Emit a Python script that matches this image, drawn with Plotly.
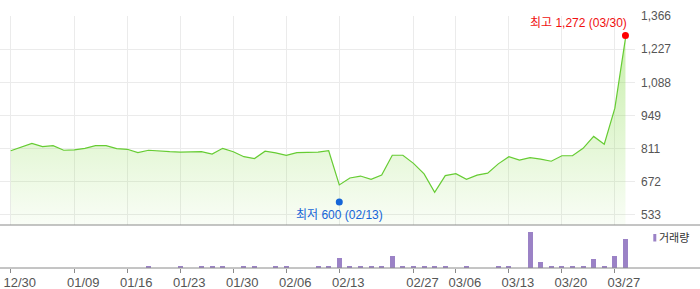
import plotly.graph_objects as go

# ---------------- data ----------------
dates = ["12/30", "01/02", "01/03", "01/06", "01/07", "01/08", "01/09", "01/10", "01/13", "01/14",
         "01/15", "01/16", "01/17", "01/20", "01/21", "01/22", "01/23", "01/24", "01/27", "01/28",
         "01/29", "01/30", "01/31", "02/03", "02/04", "02/05", "02/06", "02/07", "02/10", "02/11",
         "02/12", "02/13", "02/14", "02/17", "02/18", "02/24", "02/25", "02/26", "02/27", "02/28",
         "03/04", "03/05", "03/06", "03/09", "03/10", "03/11", "03/12", "03/13", "03/16", "03/17",
         "03/18", "03/19", "03/20", "03/23", "03/24", "03/25", "03/26", "03/27", "03/30"]

close = [802, 819, 833, 819, 823, 804, 806, 812, 823, 823,
         811, 808, 794, 804, 800, 798, 796, 796, 798, 788,
         812, 798, 777, 769, 800, 793, 783, 794, 796, 796,
         802, 659, 688, 696, 682, 700, 783, 783, 749, 705,
         628, 698, 706, 682, 700, 708, 747, 777, 763, 773,
         767, 758, 781, 781, 812, 862, 829, 980, 1272]

volume = [0, 0, 0, 0, 0, 0, 0, 0, 0, 0,
          0, 0, 0, 14000, 0, 0, 14000, 0, 14000, 14000,
          14000, 0, 14000, 14000, 0, 14000, 14000, 0, 0, 14000,
          14000, 103000, 22000, 22000, 14000, 14000, 122000, 22000, 14000, 14000,
          14000, 14000, 0, 14000, 0, 0, 14000, 14000, 0, 363000,
          62000, 14000, 14000, 14000, 14000, 91000, 14000, 117000, 293000]

tick_labels = ["12/30", "01/09", "01/16", "01/23", "01/30", "02/06", "02/13",
               "02/27", "03/06", "03/13", "03/20", "03/27"]
price_ticks = [533, 672, 811, 949, 1088, 1227, 1366]

high_label = "최고 1,272 (03/30)"
high_date, high_value = "03/30", 1272
low_label = "최저 600 (02/13)"
low_date, low_value = "02/13", 600
volume_name = "거래량"

# ---------------- figure ----------------
W, H = 700, 289
PLOT_R = 635 / W
TOP_Y = [1 - 225 / H, 1 - 16 / H]
BOT_Y = [1 - 268 / H, 1 - 225 / H]
Y_RANGE = [491.1, 1366]
X_RANGE = [-1.01, 58.9]

LINE = "rgb(102,204,51)"
GRID = "#ebebeb"
TICK_FONT = dict(family="Liberation Sans, Arial, sans-serif", size=12, color="#555")
TXT_FAMILY = "Liberation Sans, Arial, 'Noto Sans CJK KR', sans-serif"

fig = go.Figure()

fig.add_trace(go.Scatter(
    x=dates, y=close, mode="lines",
    line=dict(color=LINE, width=1.2),
    fill="tozeroy",
    fillgradient=dict(type="vertical", start=Y_RANGE[0], stop=high_value,
                      colorscale=[[0, "rgba(140,220,80,0.05)"], [1, "rgba(140,220,80,0.47)"]]),
    xaxis="x", yaxis="y", showlegend=False, hoverinfo="skip"))

fig.add_trace(go.Scatter(
    x=[high_date], y=[high_value], mode="markers",
    marker=dict(color="#ff0000", size=7, angle=180, standoff=3),
    xaxis="x", yaxis="y", showlegend=False))
fig.add_trace(go.Scatter(
    x=[low_date], y=[low_value], mode="markers",
    marker=dict(color="#1565d8", size=7, angle=0, standoff=3),
    xaxis="x", yaxis="y", showlegend=False))

fig.add_trace(go.Bar(
    x=dates, y=volume, width=0.47, marker=dict(color="#9b82c6", line=dict(width=0)),
    xaxis="x2", yaxis="y2", showlegend=False, name=volume_name))

fig.add_annotation(x=high_date, y=high_value, xref="x", yref="y", text=high_label,
                   showarrow=False, xanchor="right", yanchor="bottom", xshift=4, yshift=6,
                   font=dict(family=TXT_FAMILY, size=12, color="#f01010"))
fig.add_annotation(x=low_date, y=low_value, xref="x", yref="y", text=low_label,
                   showarrow=False, xanchor="center", yanchor="top", yshift=-7,
                   font=dict(family=TXT_FAMILY, size=12, color="#1565d8"))

# legend
fig.add_shape(type="rect", xref="paper", yref="paper",
              x0=653.3 / W, x1=656.3 / W, y0=1 - 241.5 / H, y1=1 - 234 / H,
              fillcolor="#9b82c6", line=dict(width=0))
fig.add_annotation(x=657 / W, y=1 - 237.7 / H, xref="paper", yref="paper", text=volume_name,
                   showarrow=False, xanchor="left", yanchor="middle",
                   font=dict(family=TXT_FAMILY, size=11, color="#333"))

# panel borders
fig.add_shape(type="line", xref="paper", yref="paper", x0=0, x1=1, y0=TOP_Y[0], y1=TOP_Y[0],
              line=dict(color="#8a8a8a", width=1))
fig.add_shape(type="line", xref="paper", yref="paper", x0=0, x1=1, y0=BOT_Y[0], y1=BOT_Y[0],
              line=dict(color="#8a8a8a", width=1))

fig.update_layout(
    width=W, height=H, margin=dict(l=0, r=0, t=0, b=0),
    paper_bgcolor="white", plot_bgcolor="rgba(0,0,0,0)",
    showlegend=False, bargap=0,
    xaxis=dict(domain=[0, PLOT_R], anchor="y", type="category", categoryorder="array",
               categoryarray=dates, range=X_RANGE, tickvals=tick_labels,
               showticklabels=False, showgrid=True, gridcolor=GRID, gridwidth=1,
               zeroline=False, showline=False, ticks=""),
    yaxis=dict(domain=TOP_Y, anchor="x", side="right", range=Y_RANGE, tickvals=price_ticks,
               tickformat=",", showgrid=True, gridcolor=GRID, gridwidth=1, zeroline=False,
               showline=False, ticks="", tickfont=TICK_FONT, ticklabelstandoff=5,
               automargin=False),
    xaxis2=dict(domain=[0, PLOT_R], anchor="y2", type="category", categoryorder="array",
                categoryarray=dates, range=X_RANGE, tickvals=tick_labels, ticktext=tick_labels,
                showgrid=False, zeroline=False, showline=False, ticks="outside", ticklen=4,
                tickcolor="#8a8a8a", tickfont=dict(family="Liberation Sans, Arial, sans-serif",
                                                   size=13, color="#555"),
                ticklabelshift=9, ticklabelstandoff=-2, automargin=False),
    yaxis2=dict(domain=BOT_Y, anchor="x2", range=[0, 430000], showgrid=False, zeroline=False,
                showline=False, showticklabels=False, ticks=""),
)

fig.write_html("out.html")
